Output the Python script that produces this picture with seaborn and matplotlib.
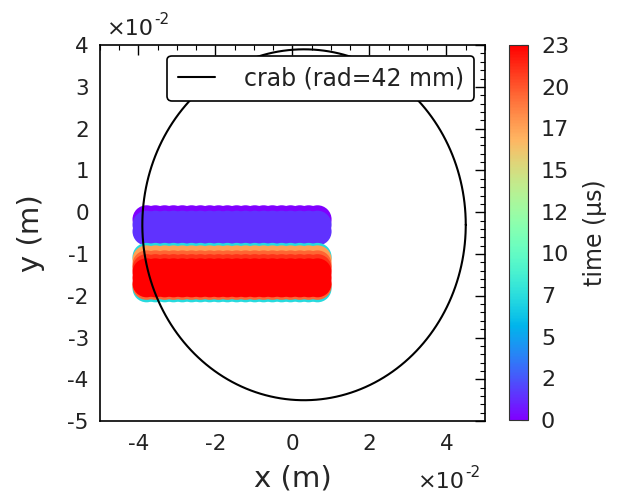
import numpy as np
import pandas as pd
import seaborn as sns
import matplotlib.pyplot as plt
from matplotlib.cm import ScalarMappable
from matplotlib.colors import Normalize
from matplotlib.ticker import FuncFormatter

# particle x positions (m) along each band
x_pos = [-0.0379, -0.0356, -0.0332, -0.0309, -0.0286, -0.0262, -0.0239, -0.0215,
         -0.0192, -0.0169, -0.0145, -0.0122, -0.0098, -0.0075, -0.0052, -0.0028,
         -0.0005, 0.0019, 0.0042, 0.0065]
# rows of particles: y position (m) and time (us)
row_y = [-0.0017, -0.0030, -0.0046,
         -0.0107, -0.0182, -0.0113, -0.0176, -0.0125, -0.0134,
         -0.0144, -0.0157, -0.0170]
row_t = [0.0, 1.5, 1.5,
         7.5, 7.5, 18.0, 20.0, 20.0, 21.5,
         23.0, 23.0, 23.0]

crab_x0, crab_y0, crab_r = 0.003, -0.003, 0.042
tmin, tmax = 0, 23
cbar_labels = ["0", "2", "5", "7", "10", "12", "15", "17", "20", "23"]

rows = []
for y, t in zip(row_y, row_t):
    for x in x_pos:
        rows.append((x, y, t))
df = pd.DataFrame(rows, columns=["x", "y", "time"]).sort_values("time", kind="stable")

sns.set_style("white")
plt.rcParams["axes.unicode_minus"] = False
plt.rcParams["font.family"] = ["DejaVu Sans"]
plt.rcParams["text.color"] = "#222222"

fig = plt.figure(figsize=(6.21, 4.96), dpi=100)
ax = fig.add_axes([0.161, 0.151, 0.620, 0.758])
cax = fig.add_axes([0.820, 0.153, 0.031, 0.756])

sns.scatterplot(data=df, x="x", y="y", hue="time", palette="rainbow",
                hue_norm=(tmin, tmax), s=410, linewidth=0, legend=False, ax=ax)

phi = np.linspace(0, 2 * np.pi, 400)
ax.plot(crab_x0 + crab_r * np.cos(phi), crab_y0 + crab_r * np.sin(phi),
        color="black", lw=1.5, label="crab (rad=42 mm)")

ax.set_xlim(-0.05, 0.05)
ax.set_ylim(-0.05, 0.04)
ax.set_xticks([-0.04, -0.02, 0, 0.02, 0.04])
ax.set_yticks(np.arange(-0.05, 0.041, 0.01))
ax.set_xticks(np.arange(-0.05, 0.051, 0.005), minor=True)
ax.set_yticks(np.arange(-0.05, 0.041, 0.002), minor=True)
fmt = FuncFormatter(lambda v, p: f"{round(v * 100):d}")
ax.xaxis.set_major_formatter(fmt)
ax.yaxis.set_major_formatter(fmt)
ax.tick_params(which="both", direction="in", top=True, right=True,
               labelsize=15.5, colors="black", labelcolor="#222222")
ax.tick_params(which="major", length=7, width=1)
ax.tick_params(which="minor", length=3.5, width=0.8)
ax.tick_params(axis="x", which="major", pad=9)
ax.tick_params(axis="y", which="major", pad=8)
for sp in ax.spines.values():
    sp.set_color("black")
    sp.set_linewidth(1.2)
ax.set_xlabel("x (m)", fontsize=21, labelpad=8)
ax.set_ylabel("y (m)", fontsize=21, labelpad=16)

# offset texts (x10^-2)
fig.text(0.172, 0.929, "×10", fontsize=16)
fig.text(0.248, 0.952, "-2", fontsize=11)
fig.text(0.673, 0.016, "×10", fontsize=16)
fig.text(0.749, 0.039, "-2", fontsize=11)

leg = ax.legend(loc="upper right", fontsize=17, frameon=True, fancybox=True,
                handlelength=1.6, handletextpad=1.2, borderaxespad=0.45,
                borderpad=0.45)
leg.get_frame().set_edgecolor("black")
leg.get_frame().set_linewidth(1.2)
leg.get_frame().set_alpha(1)

sm = ScalarMappable(norm=Normalize(tmin, tmax), cmap="rainbow")
cb = fig.colorbar(sm, cax=cax)
cb.set_ticks(np.linspace(tmin, tmax, len(cbar_labels)))
cb.set_ticklabels(cbar_labels)
cb.ax.tick_params(direction="in", labelsize=16, length=5, pad=9,
                  labelcolor="#222222")
cb.set_label("time (µs)", fontsize=17, labelpad=10)
cb.outline.set_edgecolor("#333333")

fig.savefig("out.png", dpi=100)
